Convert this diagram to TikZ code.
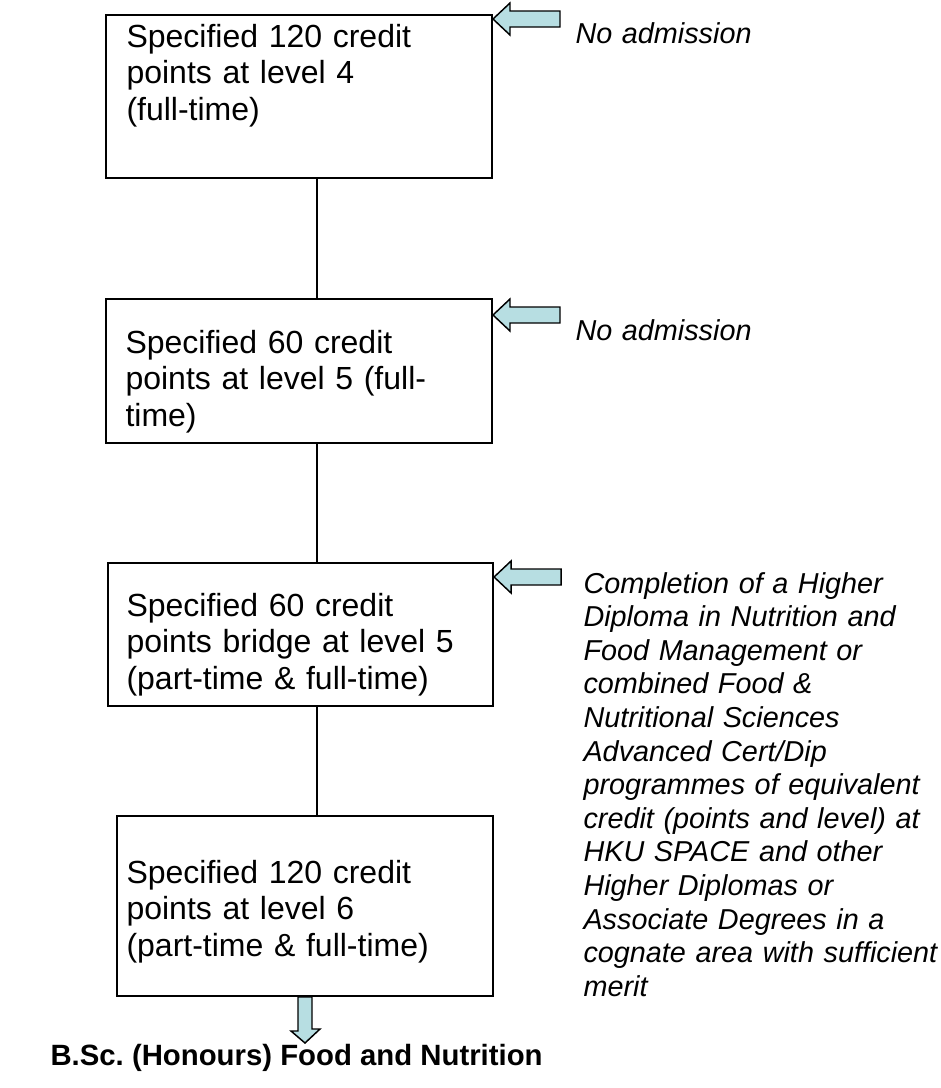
\documentclass[tikz,border=0pt]{standalone}
\usepackage{fontspec}
\setmainfont{Liberation Sans}
\usetikzlibrary{positioning}
\usepackage{xcolor}
\definecolor{paleaqua}{RGB}{183,222,226}
\frenchspacing

\tikzset{
  stagebox/.style={rectangle, draw, line width=0.75pt, inner sep=0pt, anchor=north west},
  stagetext/.style={anchor=base west, inner sep=0pt, text width=140pt, align=left, font=\fontsize{12}{13.8}\selectfont},
  routetext/.style={anchor=base west, inner sep=0pt, text width=150pt, align=left, font=\fontsize{10.8}{12.6}\selectfont\itshape},
  link/.style={line width=0.55pt},
  entryarrow/.pic={\draw[fill=paleaqua, line width=0.55pt] (0,0) -- (17,-16) -- (17,-8) -- (67,-8) -- (67,8) -- (17,8) -- (17,16) -- cycle;}
}

\begin{document}
\begin{tikzpicture}[x=0.375pt, y=-0.375pt]

\useasboundingbox (0,0) rectangle (941,1088);

% the four stages
\node[stagebox, minimum width=144.75pt, minimum height=61.1pt] (s1) at (105,14) {};
\node[stagebox, minimum width=144.75pt, minimum height=54pt] (s2) at (105,298) {};
\node[stagebox, minimum width=144.4pt, minimum height=53.6pt] (s3) at (107,562) {};
\node[stagebox, minimum width=141pt, minimum height=67.5pt] (s4) at (116,815) {};

\node[stagetext] (t1) at (126,47) {Specified 120 credit\\points at level 4\\(full-time)};
\node[stagetext] (t2) at (125,353) {Specified 60 credit\\points at level 5 (full-\\time)};
\node[stagetext] (t3) at (126,616) {Specified 60 credit\\points bridge at level 5\\(part-time \& full-time)};
\node[stagetext] (t4) at (126,883) {Specified 120 credit\\points at level 6\\(part-time \& full-time)};

\coordinate (spine) at (317,0);
\draw[link] (s1.south -| spine) -- (s2.north -| spine);
\draw[link] (s2.south -| spine) -- (s3.north -| spine);
\draw[link] (s3.south -| spine) -- (s4.north -| spine);

% entry points
\path (s1.east |- 0,19) pic {entryarrow};
\path (s2.east |- 0,315) pic {entryarrow};
\path (s3.east |- 0,577) pic {entryarrow};

\node[routetext] (r1) at (575,43) {No admission};
\node[routetext] (r2) at (575,340) {No admission};
\node[routetext] (r3) at (583,593) {Completion of a Higher\\Diploma in Nutrition and\\Food Management or\\combined Food \&\\Nutritional Sciences\\Advanced Cert/Dip\\programmes of equivalent\\credit (points and level) at\\HKU SPACE and other\\Higher Diplomas or\\Associate Degrees in a\\cognate area with sufficient\\merit};

% award
\draw[fill=paleaqua, line width=0.55pt] (s4.south -| 305,0) ++(-7,0) -- ++(0,34) -- ++(-7,0) -- (305,1043) -- (320,1029) -- ++(-8,0) -- (s4.south -| 312,0) -- cycle;
\node[anchor=base west, inner sep=0pt, font=\fontsize{11}{13}\selectfont\bfseries] (award) at (50,1065) {B.Sc. (Honours) Food and Nutrition};

\end{tikzpicture}
\end{document}
